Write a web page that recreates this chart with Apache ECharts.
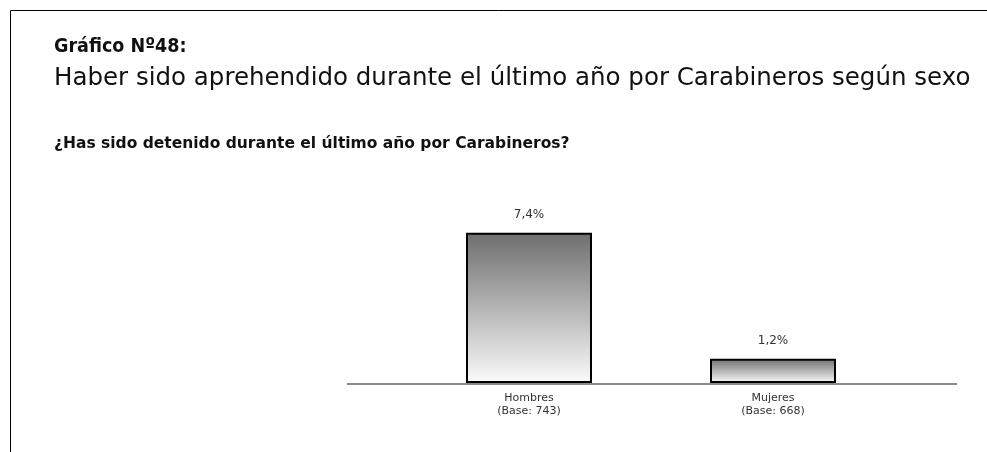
<!DOCTYPE html>
<html><head><meta charset="utf-8">
<script src="https://cdn.jsdelivr.net/npm/echarts@6/dist/echarts.min.js"></script>
<style>html,body{margin:0;padding:0;background:#fff}#c{width:987px;height:452px}</style>
</head><body><div id="c"></div>
<script>
const categories = ['Hombres\n(Base: 743)', 'Mujeres\n(Base: 668)'];
const values = [7.4, 1.2];
const valueLabels = ['7,4%', '1,2%'];

const FONT = 'DejaVu Sans';
const chart = echarts.init(document.getElementById('c'));
const grad = new echarts.graphic.LinearGradient(0, 0, 0, 1, [
  {offset: 0, color: '#6e6e6e'},
  {offset: 0.5, color: '#b4b4b4'},
  {offset: 1, color: '#fbfbfb'}
]);
chart.setOption({
  animation: false,
  backgroundColor: '#fff',
  title: [
    {text: 'Gráfico Nº48:', left: 49, top: 32, textStyle: {fontFamily: '"DejaVu Sans Condensed", "DejaVu Sans"', fontSize: 19.5, fontWeight: 'bold', color: '#111'}},
    {text: 'Haber sido aprehendido durante el último año por Carabineros según sexo', left: 49, top: 61, textStyle: {fontFamily: FONT, fontSize: 24.5, fontWeight: 'normal', color: '#111'}},
    {text: '¿Has sido detenido durante el último año por Carabineros?', left: 49, top: 131, textStyle: {fontFamily: FONT, fontSize: 15.5, fontWeight: 'bold', color: '#111'}}
  ],
  grid: {left: 407, width: 488, bottom: 69, top: 180},
  xAxis: {
    type: 'category', data: categories,
    axisLine: {show: false}, axisTick: {show: false},
    axisLabel: {fontFamily: FONT, fontSize: 11, color: '#333', lineHeight: 13, margin: 9}
  },
  yAxis: {type: 'value', min: 0, max: 10, show: false},
  series: [{
    type: 'bar', data: values, barWidth: 126,
    itemStyle: {color: grad, borderColor: '#000', borderWidth: 2},
    label: {show: true, position: 'top', distance: 12, fontFamily: FONT, fontSize: 12, color: '#333',
      formatter: p => valueLabels[p.dataIndex]}
  }],
  graphic: [
    {type: 'line', shape: {x1: 347, y1: 384, x2: 957, y2: 384}, style: {stroke: '#666', lineWidth: 1.5}, z: 0},
    {type: 'polyline', shape: {points: [[10.5, 452], [10.5, 10.5], [987, 10.5]]}, style: {stroke: '#000', lineWidth: 1, fill: null}}
  ]
});
</script></body></html>
